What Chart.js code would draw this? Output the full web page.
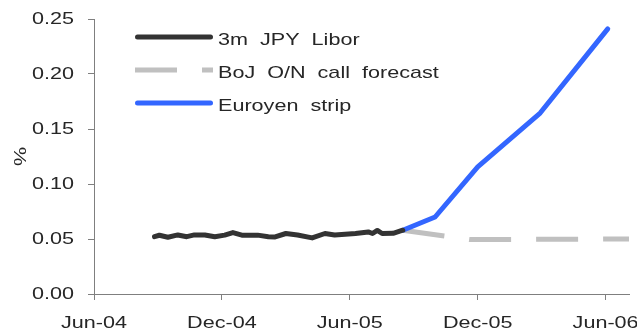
<!DOCTYPE html>
<html>
<head>
<meta charset="utf-8">
<script src="https://cdn.jsdelivr.net/npm/chart.js@4"></script>
<style>
  html, body { margin: 0; padding: 0; background: #ffffff; }
  #wrap { width: 637px; height: 335px; position: relative; }
</style>
</head>
<body>
<div id="wrap"><canvas id="chart"></canvas></div>
<script>
// Axis tick labels (half-yearly) and y ticks, in %
const xTickLabels = ['Jun-04', 'Dec-04', 'Jun-05', 'Dec-05', 'Jun-06'];
const yTickValues = [0, 0.05, 0.10, 0.15, 0.20, 0.25];

// Series names
const seriesNames = ['3m JPY Libor', 'BoJ O/N call forecast', 'Euroyen strip'];

// 3m JPY Libor fixings, %
const liborDates = [
  '2004-08-27', '2004-09-03', '2004-09-15', '2004-09-29', '2004-10-12', '2004-10-23',
  '2004-11-07', '2004-11-21', '2004-12-05', '2004-12-17', '2004-12-30', '2005-01-22',
  '2005-02-06', '2005-02-15', '2005-03-01', '2005-03-18', '2005-04-08', '2005-04-26',
  '2005-05-10', '2005-06-09', '2005-06-27', '2005-07-03', '2005-07-10', '2005-07-17',
  '2005-08-02', '2005-08-16'
];
const liborValues = [
  0.0521, 0.0534, 0.0516, 0.0537, 0.0521, 0.0537,
  0.0537, 0.0521, 0.0535, 0.0558, 0.0535, 0.0535,
  0.0521, 0.0519, 0.0550, 0.0536, 0.0510, 0.0550,
  0.0536, 0.0550, 0.0564, 0.0550, 0.0578, 0.0550,
  0.0552, 0.0580
];

// BoJ overnight call rate forecast, %
const forecastDates = ['2005-08-16', '2005-11-20', '2006-07-04'];
const forecastValues = [0.0580, 0.0495, 0.0500];

// Euroyen futures strip, %
const stripDates = ['2005-08-16', '2005-10-01', '2005-12-01', '2006-02-27', '2006-06-04'];
const stripValues = [0.0580, 0.0700, 0.1155, 0.1645, 0.2410];

// Months elapsed since 1 June 2004 (fractional, by day of month)
function monthPos(iso) {
  const [y, m, d] = iso.split('-').map(Number);
  const dim = new Date(y, m, 0).getDate();
  return (y - 2004) * 12 + (m - 6) + (d - 1) / dim;
}
const MONTHS = ['Jan','Feb','Mar','Apr','May','Jun','Jul','Aug','Sep','Oct','Nov','Dec'];
function labelPos(label) {
  const [mon, yy] = label.split('-');
  const m = MONTHS.indexOf(mon) + 1;
  return monthPos(`20${yy}-${String(m).padStart(2, '0')}-01`);
}
const toPoints = (dates, values) => dates.map((d, i) => ({ x: monthPos(d), y: values[i] }));

// The type face used here is drawn horizontally widened
const TEXT_STRETCH = 1.27;
const canvas = document.getElementById('chart');
const ctx2d = canvas.getContext('2d');
(function widenText(ctx) {
  const fill = ctx.fillText.bind(ctx);
  const measure = ctx.measureText.bind(ctx);
  ctx.fillText = function (text, x, y) {
    this.save();
    this.translate(x, y);
    this.scale(TEXT_STRETCH, 1);
    fill(text, 0, 0);
    this.restore();
  };
  ctx.measureText = function (text) {
    const m = measure(text);
    return {
      width: m.width * TEXT_STRETCH,
      actualBoundingBoxAscent: m.actualBoundingBoxAscent,
      actualBoundingBoxDescent: m.actualBoundingBoxDescent,
      actualBoundingBoxLeft: m.actualBoundingBoxLeft * TEXT_STRETCH,
      actualBoundingBoxRight: m.actualBoundingBoxRight * TEXT_STRETCH,
      fontBoundingBoxAscent: m.fontBoundingBoxAscent,
      fontBoundingBoxDescent: m.fontBoundingBoxDescent
    };
  };
})(ctx2d);

const TEXT_COLOR = '#262626';
const AXIS_COLOR = '#7f7f7f';
const FONT_FAMILY = '"Liberation Sans", Arial, Helvetica, sans-serif';

Chart.defaults.font.family = FONT_FAMILY;
Chart.defaults.font.size = 17;
Chart.defaults.color = TEXT_COLOR;

// Legend drawn inside the plot, top-left
const insetLegend = {
  id: 'insetLegend',
  afterDraw(chart) {
    const { ctx, chartArea } = chart;
    const x0 = chartArea.left + 41;
    const x1 = chartArea.left + 119;
    const tx = chartArea.left + 124;
    chart.data.datasets.forEach((ds, i) => {
      const yLine = chartArea.top + 18 + i * 33;
      const yText = yLine + 3.5;
      ctx.save();
      ctx.strokeStyle = ds.borderColor;
      ctx.lineWidth = ds.borderWidth;
      ctx.setLineDash(ds.borderDash || []);
      ctx.lineCap = ds.borderCapStyle || 'butt';
      const inset = ctx.lineCap === 'round' ? ds.borderWidth / 2 : 0;
      ctx.beginPath();
      ctx.moveTo(x0 + inset, yLine);
      ctx.lineTo(x1 - inset, yLine);
      ctx.stroke();
      ctx.setLineDash([]);
      ctx.fillStyle = TEXT_COLOR;
      ctx.font = `17px ${FONT_FAMILY}`;
      ctx.textAlign = 'left';
      ctx.textBaseline = 'middle';
      ctx.fillText(ds.label.replace(/ /g, '  '), tx, yText);
      ctx.restore();
    });
  }
};

new Chart(ctx2d, {
  type: 'line',
  data: {
    datasets: [
      {
        label: seriesNames[0],
        data: toPoints(liborDates, liborValues),
        borderColor: '#333333',
        borderWidth: 5,
        borderCapStyle: 'round',
        borderJoinStyle: 'round',
        order: 1
      },
      {
        label: seriesNames[1],
        data: toPoints(forecastDates, forecastValues),
        borderColor: '#c0c0c0',
        borderWidth: 5,
        borderDash: [42, 25],
        borderCapStyle: 'butt',
        order: 3
      },
      {
        label: seriesNames[2],
        data: toPoints(stripDates, stripValues),
        borderColor: '#3366ff',
        borderWidth: 5,
        borderCapStyle: 'round',
        borderJoinStyle: 'round',
        order: 2
      }
    ]
  },
  options: {
    responsive: true,
    maintainAspectRatio: false,
    devicePixelRatio: 1,
    animation: false,
    layout: { padding: { left: 0, top: 19, right: 8, bottom: 0 } },
    elements: {
      point: { radius: 0, hoverRadius: 0 },
      line: { tension: 0, fill: false }
    },
    plugins: {
      legend: { display: false },
      tooltip: { enabled: false }
    },
    scales: {
      x: {
        type: 'linear',
        min: labelPos(xTickLabels[0]),
        max: monthPos('2006-07-04'),
        afterBuildTicks(scale) {
          scale.ticks = xTickLabels.map(l => ({ value: labelPos(l) }));
        },
        afterFit(scale) {
          // fixed band under the plot; labels may run into the margins
          scale.height = 41;
          scale.paddingLeft = 0;
          scale.paddingRight = 0;
        },
        ticks: {
          autoSkip: false,
          maxRotation: 0,
          padding: 13,
          color: TEXT_COLOR,
          callback: (value, index) => xTickLabels[index]
        },
        grid: {
          display: true,
          drawOnChartArea: false,
          drawTicks: true,
          tickLength: 6,
          tickColor: AXIS_COLOR,
          tickWidth: 1
        },
        border: { display: true, color: AXIS_COLOR, width: 1 }
      },
      y: {
        type: 'linear',
        min: yTickValues[0],
        max: yTickValues[yTickValues.length - 1],
        afterBuildTicks(scale) {
          scale.ticks = yTickValues.map(v => ({ value: v }));
        },
        afterFit(scale) {
          scale.width = 94;
          scale.paddingTop = 0;
          scale.paddingBottom = 0;
        },
        ticks: {
          padding: 14,
          color: TEXT_COLOR,
          callback: (value) => value.toFixed(2)
        },
        title: {
          display: true,
          text: '%',
          color: TEXT_COLOR,
          font: { size: 17 },
          padding: { top: 11, bottom: 0 }
        },
        grid: {
          display: true,
          drawOnChartArea: false,
          drawTicks: true,
          tickLength: 6,
          tickColor: AXIS_COLOR,
          tickWidth: 1
        },
        border: { display: true, color: AXIS_COLOR, width: 1 }
      }
    }
  },
  plugins: [insetLegend]
});
</script>
</body>
</html>
